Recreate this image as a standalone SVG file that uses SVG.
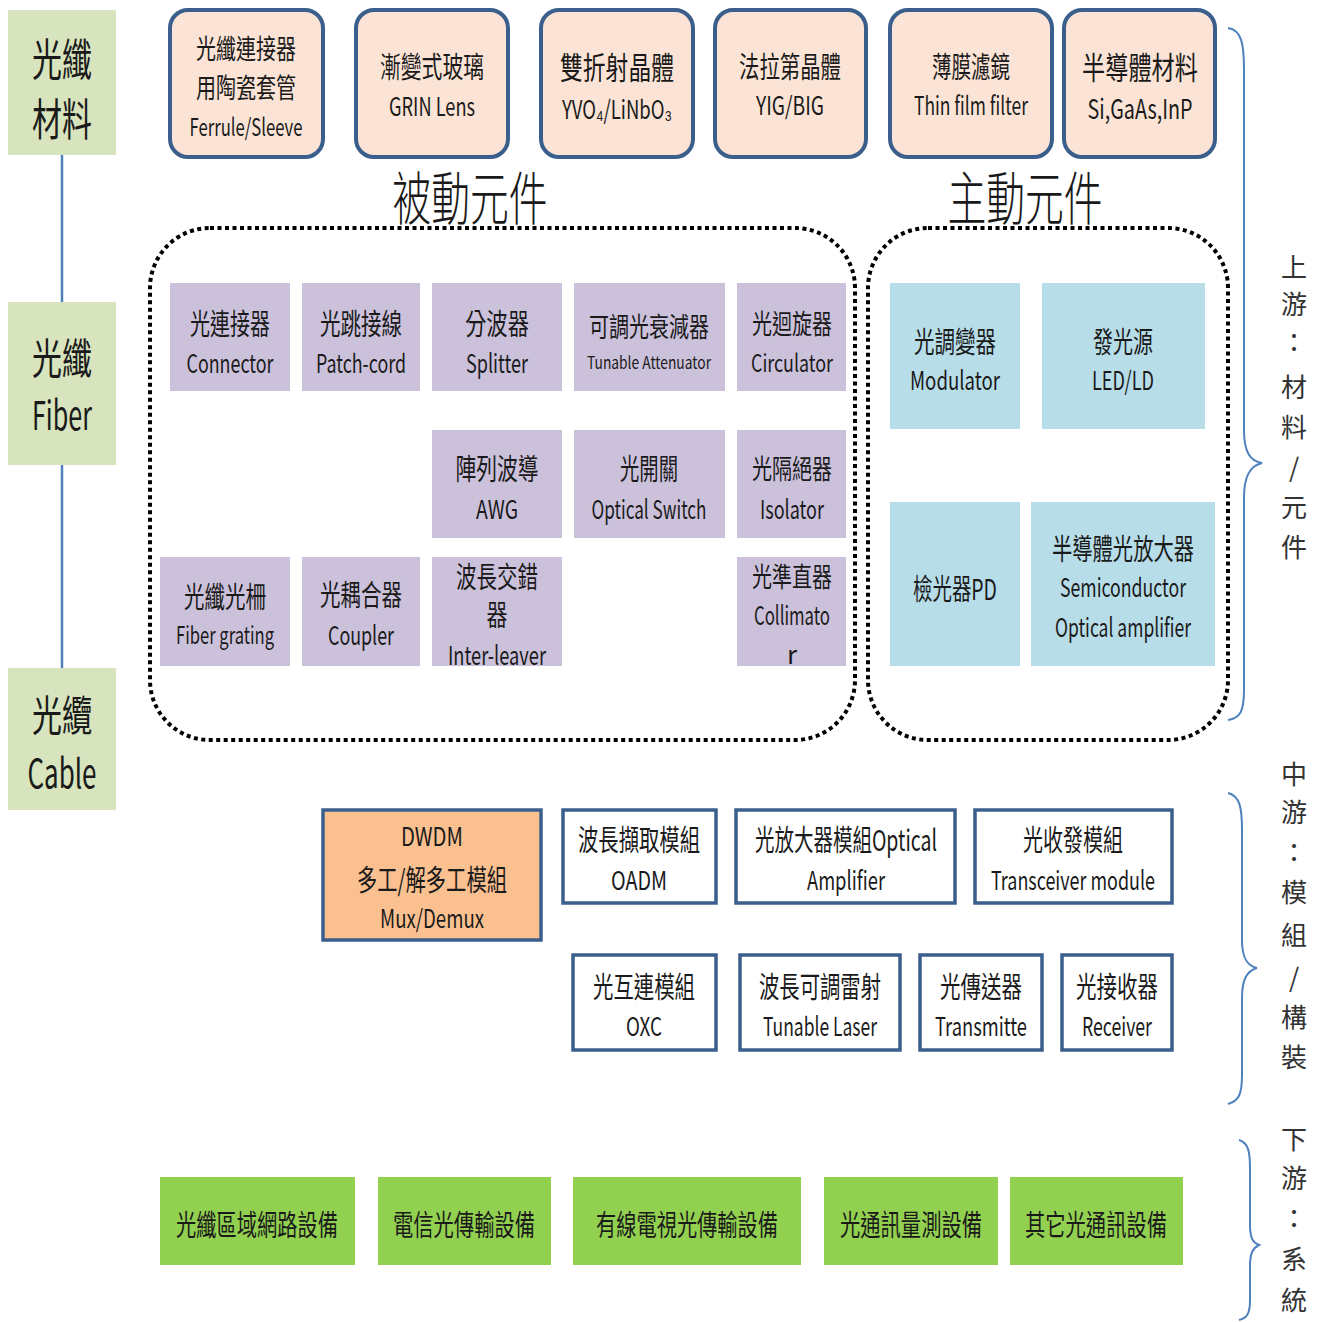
<svg xmlns="http://www.w3.org/2000/svg" width="1325" height="1322" viewBox="0 0 1325 1322">
<style>
text{font-family:"Noto Sans CJK TC","Noto Sans CJK SC",sans-serif;fill:#1a1a1a;dominant-baseline:central;text-anchor:middle;}
.side{fill:#d7e4bd;}
.mat{fill:#fbe4d5;stroke:#3b5f8d;stroke-width:4;}
.pas{fill:#ccc1da;}
.act{fill:#b7dde8;}
.mod{fill:#ffffff;stroke:#3b5f8d;stroke-width:3.5;}
.dw{fill:#fac090;stroke:#3b5f8d;stroke-width:3.5;}
.sys{fill:#92d050;}
.dot{fill:none;stroke:#000;stroke-width:4;stroke-dasharray:4 3.5;}
.brace{fill:none;stroke:#4f81bd;stroke-width:2;}
.link{stroke:#4f81bd;stroke-width:2.5;}
.lbl{font-size:26px;fill:#333;}
</style>
<g id="connectors">
<line class="link" x1="62" y1="155" x2="62" y2="302"/>
<line class="link" x1="62" y1="465" x2="62" y2="668"/>
</g>
<g id="side-material"><rect class="side" x="8" y="10" width="108" height="145"/>
<text x="62" y="57" font-size="44" textLength="60" lengthAdjust="spacingAndGlyphs">光纖</text>
<text x="62" y="117" font-size="44" textLength="60" lengthAdjust="spacingAndGlyphs">材料</text></g>
<g id="side-fiber"><rect class="side" x="8" y="302" width="108" height="163"/>
<text x="62" y="355" font-size="42" textLength="60" lengthAdjust="spacingAndGlyphs">光纖</text>
<text x="62" y="413" font-size="40" textLength="60" lengthAdjust="spacingAndGlyphs">Fiber</text></g>
<g id="side-cable"><rect class="side" x="8" y="668" width="108" height="142"/>
<text x="62" y="712" font-size="42" textLength="60" lengthAdjust="spacingAndGlyphs">光纜</text>
<text x="62" y="771" font-size="40" textLength="69" lengthAdjust="spacingAndGlyphs">Cable</text></g>

<g id="mat-ferrule"><rect class="mat" x="170" y="10" width="153" height="147" rx="18"/>
<text x="246" y="47" font-size="27" textLength="100" lengthAdjust="spacingAndGlyphs">光纖連接器</text>
<text x="246" y="86" font-size="27" textLength="100" lengthAdjust="spacingAndGlyphs">用陶瓷套管</text>
<text x="246" y="125" font-size="24" textLength="113" lengthAdjust="spacingAndGlyphs">Ferrule/Sleeve</text></g>
<g id="mat-grin"><rect class="mat" x="356" y="10" width="152" height="147" rx="18"/>
<text x="432" y="65" font-size="29" textLength="104" lengthAdjust="spacingAndGlyphs">漸變式玻璃</text>
<text x="432" y="105" font-size="25" textLength="86" lengthAdjust="spacingAndGlyphs">GRIN Lens</text></g>
<g id="mat-yvo4"><rect class="mat" x="541" y="10" width="152" height="147" rx="18"/>
<text x="617" y="65" font-size="31" textLength="114" lengthAdjust="spacingAndGlyphs">雙折射晶體</text>
<text x="617" y="107" font-size="26" textLength="110" lengthAdjust="spacingAndGlyphs">YVO₄/LiNbO₃</text></g>
<g id="mat-yig"><rect class="mat" x="715" y="10" width="151" height="147" rx="18"/>
<text x="790" y="65" font-size="29" textLength="102" lengthAdjust="spacingAndGlyphs">法拉第晶體</text>
<text x="790" y="104" font-size="25" textLength="68" lengthAdjust="spacingAndGlyphs">YIG/BIG</text></g>
<g id="mat-thinfilm"><rect class="mat" x="890" y="10" width="162" height="147" rx="18"/>
<text x="971" y="65" font-size="29" textLength="78" lengthAdjust="spacingAndGlyphs">薄膜濾鏡</text>
<text x="971" y="104" font-size="25" textLength="114" lengthAdjust="spacingAndGlyphs">Thin film filter</text></g>
<g id="mat-semi"><rect class="mat" x="1064" y="10" width="151" height="147" rx="18"/>
<text x="1140" y="65" font-size="31" textLength="116" lengthAdjust="spacingAndGlyphs">半導體材料</text>
<text x="1140" y="107" font-size="27" textLength="105" lengthAdjust="spacingAndGlyphs">Si,GaAs,InP</text></g>

<g id="title-passive"><text x="470" y="195" font-size="58" font-weight="300" textLength="155" lengthAdjust="spacingAndGlyphs">被動元件</text></g>
<g id="title-active"><text x="1025" y="195" font-size="58" font-weight="300" textLength="155" lengthAdjust="spacingAndGlyphs">主動元件</text></g>

<g id="group-passive"><rect class="dot" x="150" y="228" width="705" height="512" rx="60"/></g>
<g id="group-active"><rect class="dot" x="868" y="228" width="360" height="512" rx="60"/></g>

<g id="p-connector"><rect class="pas" x="170" y="283" width="120" height="108"/>
<text x="230" y="322" font-size="29" textLength="80" lengthAdjust="spacingAndGlyphs">光連接器</text>
<text x="230" y="361" font-size="26" textLength="87" lengthAdjust="spacingAndGlyphs">Connector</text></g>
<g id="p-patch"><rect class="pas" x="302" y="283" width="118" height="108"/>
<text x="361" y="322" font-size="29" textLength="82" lengthAdjust="spacingAndGlyphs">光跳接線</text>
<text x="361" y="361" font-size="26" textLength="90" lengthAdjust="spacingAndGlyphs">Patch-cord</text></g>
<g id="p-splitter"><rect class="pas" x="432" y="283" width="130" height="108"/>
<text x="497" y="322" font-size="29" textLength="64" lengthAdjust="spacingAndGlyphs">分波器</text>
<text x="497" y="361" font-size="26" textLength="62" lengthAdjust="spacingAndGlyphs">Splitter</text></g>
<g id="p-attenuator"><rect class="pas" x="574" y="283" width="151" height="108"/>
<text x="649" y="325" font-size="27" textLength="120" lengthAdjust="spacingAndGlyphs">可調光衰減器</text>
<text x="649" y="361" font-size="17" textLength="124" lengthAdjust="spacingAndGlyphs">Tunable Attenuator</text></g>
<g id="p-circulator"><rect class="pas" x="737" y="283" width="109" height="108"/>
<text x="792" y="322" font-size="27" textLength="80" lengthAdjust="spacingAndGlyphs">光迴旋器</text>
<text x="792" y="361" font-size="24" textLength="82" lengthAdjust="spacingAndGlyphs">Circulator</text></g>
<g id="p-awg"><rect class="pas" x="432" y="430" width="130" height="108"/>
<text x="497" y="467" font-size="29" textLength="83" lengthAdjust="spacingAndGlyphs">陣列波導</text>
<text x="497" y="507" font-size="26" textLength="42" lengthAdjust="spacingAndGlyphs">AWG</text></g>
<g id="p-switch"><rect class="pas" x="574" y="430" width="151" height="108"/>
<text x="649" y="467" font-size="29" textLength="58" lengthAdjust="spacingAndGlyphs">光開關</text>
<text x="649" y="507" font-size="26" textLength="115" lengthAdjust="spacingAndGlyphs">Optical Switch</text></g>
<g id="p-isolator"><rect class="pas" x="737" y="430" width="109" height="108"/>
<text x="792" y="467" font-size="27" textLength="80" lengthAdjust="spacingAndGlyphs">光隔絕器</text>
<text x="792" y="507" font-size="26" textLength="64" lengthAdjust="spacingAndGlyphs">Isolator</text></g>
<g id="p-grating"><rect class="pas" x="160" y="557" width="130" height="109"/>
<text x="225" y="595" font-size="29" textLength="82" lengthAdjust="spacingAndGlyphs">光纖光柵</text>
<text x="225" y="633" font-size="24" textLength="98" lengthAdjust="spacingAndGlyphs">Fiber grating</text></g>
<g id="p-coupler"><rect class="pas" x="302" y="557" width="118" height="109"/>
<text x="361" y="593" font-size="29" textLength="82" lengthAdjust="spacingAndGlyphs">光耦合器</text>
<text x="361" y="633" font-size="26" textLength="66" lengthAdjust="spacingAndGlyphs">Coupler</text></g>
<g id="p-interleaver"><rect class="pas" x="432" y="557" width="130" height="109"/>
<text x="497" y="575" font-size="29" textLength="82" lengthAdjust="spacingAndGlyphs">波長交錯</text>
<text x="497" y="613" font-size="29" textLength="21" lengthAdjust="spacingAndGlyphs">器</text>
<text x="497" y="653" font-size="26" textLength="98" lengthAdjust="spacingAndGlyphs">Inter-leaver</text></g>
<g id="p-collimator"><rect class="pas" x="737" y="557" width="109" height="109"/>
<text x="792" y="575" font-size="27" textLength="80" lengthAdjust="spacingAndGlyphs">光準直器</text>
<text x="792" y="613" font-size="26" textLength="76" lengthAdjust="spacingAndGlyphs">Collimato</text>
<text x="792" y="652" font-size="26">r</text></g>

<g id="a-modulator"><rect class="act" x="890" y="283" width="130" height="146"/>
<text x="955" y="340" font-size="29" textLength="82" lengthAdjust="spacingAndGlyphs">光調變器</text>
<text x="955" y="378" font-size="26" textLength="90" lengthAdjust="spacingAndGlyphs">Modulator</text></g>
<g id="a-led"><rect class="act" x="1042" y="283" width="163" height="146"/>
<text x="1123" y="340" font-size="29" textLength="60" lengthAdjust="spacingAndGlyphs">發光源</text>
<text x="1123" y="378" font-size="26" textLength="62" lengthAdjust="spacingAndGlyphs">LED/LD</text></g>
<g id="a-pd"><rect class="act" x="890" y="502" width="130" height="164"/>
<text x="955" y="587" font-size="29" textLength="84" lengthAdjust="spacingAndGlyphs">檢光器PD</text></g>
<g id="a-soa"><rect class="act" x="1031" y="502" width="184" height="164"/>
<text x="1123" y="547" font-size="29" textLength="142" lengthAdjust="spacingAndGlyphs">半導體光放大器</text>
<text x="1123" y="585" font-size="26" textLength="126" lengthAdjust="spacingAndGlyphs">Semiconductor</text>
<text x="1123" y="625" font-size="26" textLength="136" lengthAdjust="spacingAndGlyphs">Optical amplifier</text></g>

<g id="m-dwdm"><rect class="dw" x="323" y="810" width="218" height="130"/>
<text x="432" y="835" font-size="25" textLength="62" lengthAdjust="spacingAndGlyphs">DWDM</text>
<text x="432" y="878" font-size="29" textLength="150" lengthAdjust="spacingAndGlyphs">多工/解多工模組</text>
<text x="432" y="917" font-size="25" textLength="104" lengthAdjust="spacingAndGlyphs">Mux/Demux</text></g>
<g id="m-oadm"><rect class="mod" x="563" y="810" width="153" height="93"/>
<text x="639" y="838" font-size="29" textLength="122" lengthAdjust="spacingAndGlyphs">波長擷取模組</text>
<text x="639" y="878" font-size="26" textLength="56" lengthAdjust="spacingAndGlyphs">OADM</text></g>
<g id="m-amp"><rect class="mod" x="736" y="810" width="219" height="93"/>
<text x="846" y="838" font-size="29" textLength="182" lengthAdjust="spacingAndGlyphs">光放大器模組Optical</text>
<text x="846" y="878" font-size="26" textLength="78" lengthAdjust="spacingAndGlyphs">Amplifier</text></g>
<g id="m-trx"><rect class="mod" x="975" y="810" width="197" height="93"/>
<text x="1073" y="838" font-size="29" textLength="100" lengthAdjust="spacingAndGlyphs">光收發模組</text>
<text x="1073" y="878" font-size="26" textLength="164" lengthAdjust="spacingAndGlyphs">Transceiver module</text></g>
<g id="m-oxc"><rect class="mod" x="573" y="955" width="143" height="95"/>
<text x="644" y="985" font-size="29" textLength="102" lengthAdjust="spacingAndGlyphs">光互連模組</text>
<text x="644" y="1024" font-size="26" textLength="36" lengthAdjust="spacingAndGlyphs">OXC</text></g>
<g id="m-laser"><rect class="mod" x="740" y="955" width="160" height="95"/>
<text x="820" y="985" font-size="29" textLength="122" lengthAdjust="spacingAndGlyphs">波長可調雷射</text>
<text x="820" y="1024" font-size="26" textLength="114" lengthAdjust="spacingAndGlyphs">Tunable Laser</text></g>
<g id="m-tx"><rect class="mod" x="920" y="955" width="122" height="95"/>
<text x="981" y="985" font-size="29" textLength="82" lengthAdjust="spacingAndGlyphs">光傳送器</text>
<text x="981" y="1024" font-size="26" textLength="92" lengthAdjust="spacingAndGlyphs">Transmitte</text></g>
<g id="m-rx"><rect class="mod" x="1062" y="955" width="110" height="95"/>
<text x="1117" y="985" font-size="29" textLength="82" lengthAdjust="spacingAndGlyphs">光接收器</text>
<text x="1117" y="1024" font-size="26" textLength="70" lengthAdjust="spacingAndGlyphs">Receiver</text></g>

<g id="s-lan"><rect class="sys" x="160" y="1177" width="195" height="88"/>
<text x="257" y="1223" font-size="29" textLength="162" lengthAdjust="spacingAndGlyphs">光纖區域網路設備</text></g>
<g id="s-telecom"><rect class="sys" x="378" y="1177" width="173" height="88"/>
<text x="464" y="1223" font-size="29" textLength="142" lengthAdjust="spacingAndGlyphs">電信光傳輸設備</text></g>
<g id="s-catv"><rect class="sys" x="573" y="1177" width="228" height="88"/>
<text x="687" y="1223" font-size="29" textLength="182" lengthAdjust="spacingAndGlyphs">有線電視光傳輸設備</text></g>
<g id="s-measure"><rect class="sys" x="824" y="1177" width="174" height="88"/>
<text x="911" y="1223" font-size="29" textLength="142" lengthAdjust="spacingAndGlyphs">光通訊量測設備</text></g>
<g id="s-other"><rect class="sys" x="1010" y="1177" width="173" height="88"/>
<text x="1096" y="1223" font-size="29" textLength="142" lengthAdjust="spacingAndGlyphs">其它光通訊設備</text></g>

<g id="brace-upstream">
<path class="brace" d="M1228,28 C1242,30 1244,45 1244,70 L1244,430 C1244,452 1250,461 1262,463 C1250,466 1244,476 1244,498 L1244,690 C1244,712 1240,718 1228,720"/>
<text class="lbl" x="1294" y="265">上</text><text class="lbl" x="1294" y="302">游</text><text class="lbl" x="1294" y="340">：</text><text class="lbl" x="1294" y="385">材</text><text class="lbl" x="1294" y="425">料</text><text class="lbl" x="1294" y="465">/</text><text class="lbl" x="1294" y="505">元</text><text class="lbl" x="1294" y="545">件</text>
</g>
<g id="brace-midstream">
<path class="brace" d="M1228,793 C1240,796 1242,808 1242,830 L1242,940 C1242,958 1247,966 1257,968 C1247,971 1242,979 1242,998 L1242,1075 C1242,1096 1238,1101 1228,1104"/>
<text class="lbl" x="1294" y="772">中</text><text class="lbl" x="1294" y="810">游</text><text class="lbl" x="1294" y="850">：</text><text class="lbl" x="1294" y="890">模</text><text class="lbl" x="1294" y="933">組</text><text class="lbl" x="1294" y="975">/</text><text class="lbl" x="1294" y="1015">構</text><text class="lbl" x="1294" y="1055">裝</text>
</g>
<g id="brace-downstream">
<path class="brace" d="M1239,1140 C1249,1143 1250,1153 1250,1170 L1250,1225 C1250,1238 1253,1243 1259,1245 C1253,1248 1250,1253 1250,1266 L1250,1300 C1250,1314 1247,1318 1239,1320"/>
<text class="lbl" x="1294" y="1137">下</text><text class="lbl" x="1294" y="1176">游</text><text class="lbl" x="1294" y="1216">：</text><text class="lbl" x="1294" y="1257">系</text><text class="lbl" x="1294" y="1298">統</text>
</g>
</svg>
